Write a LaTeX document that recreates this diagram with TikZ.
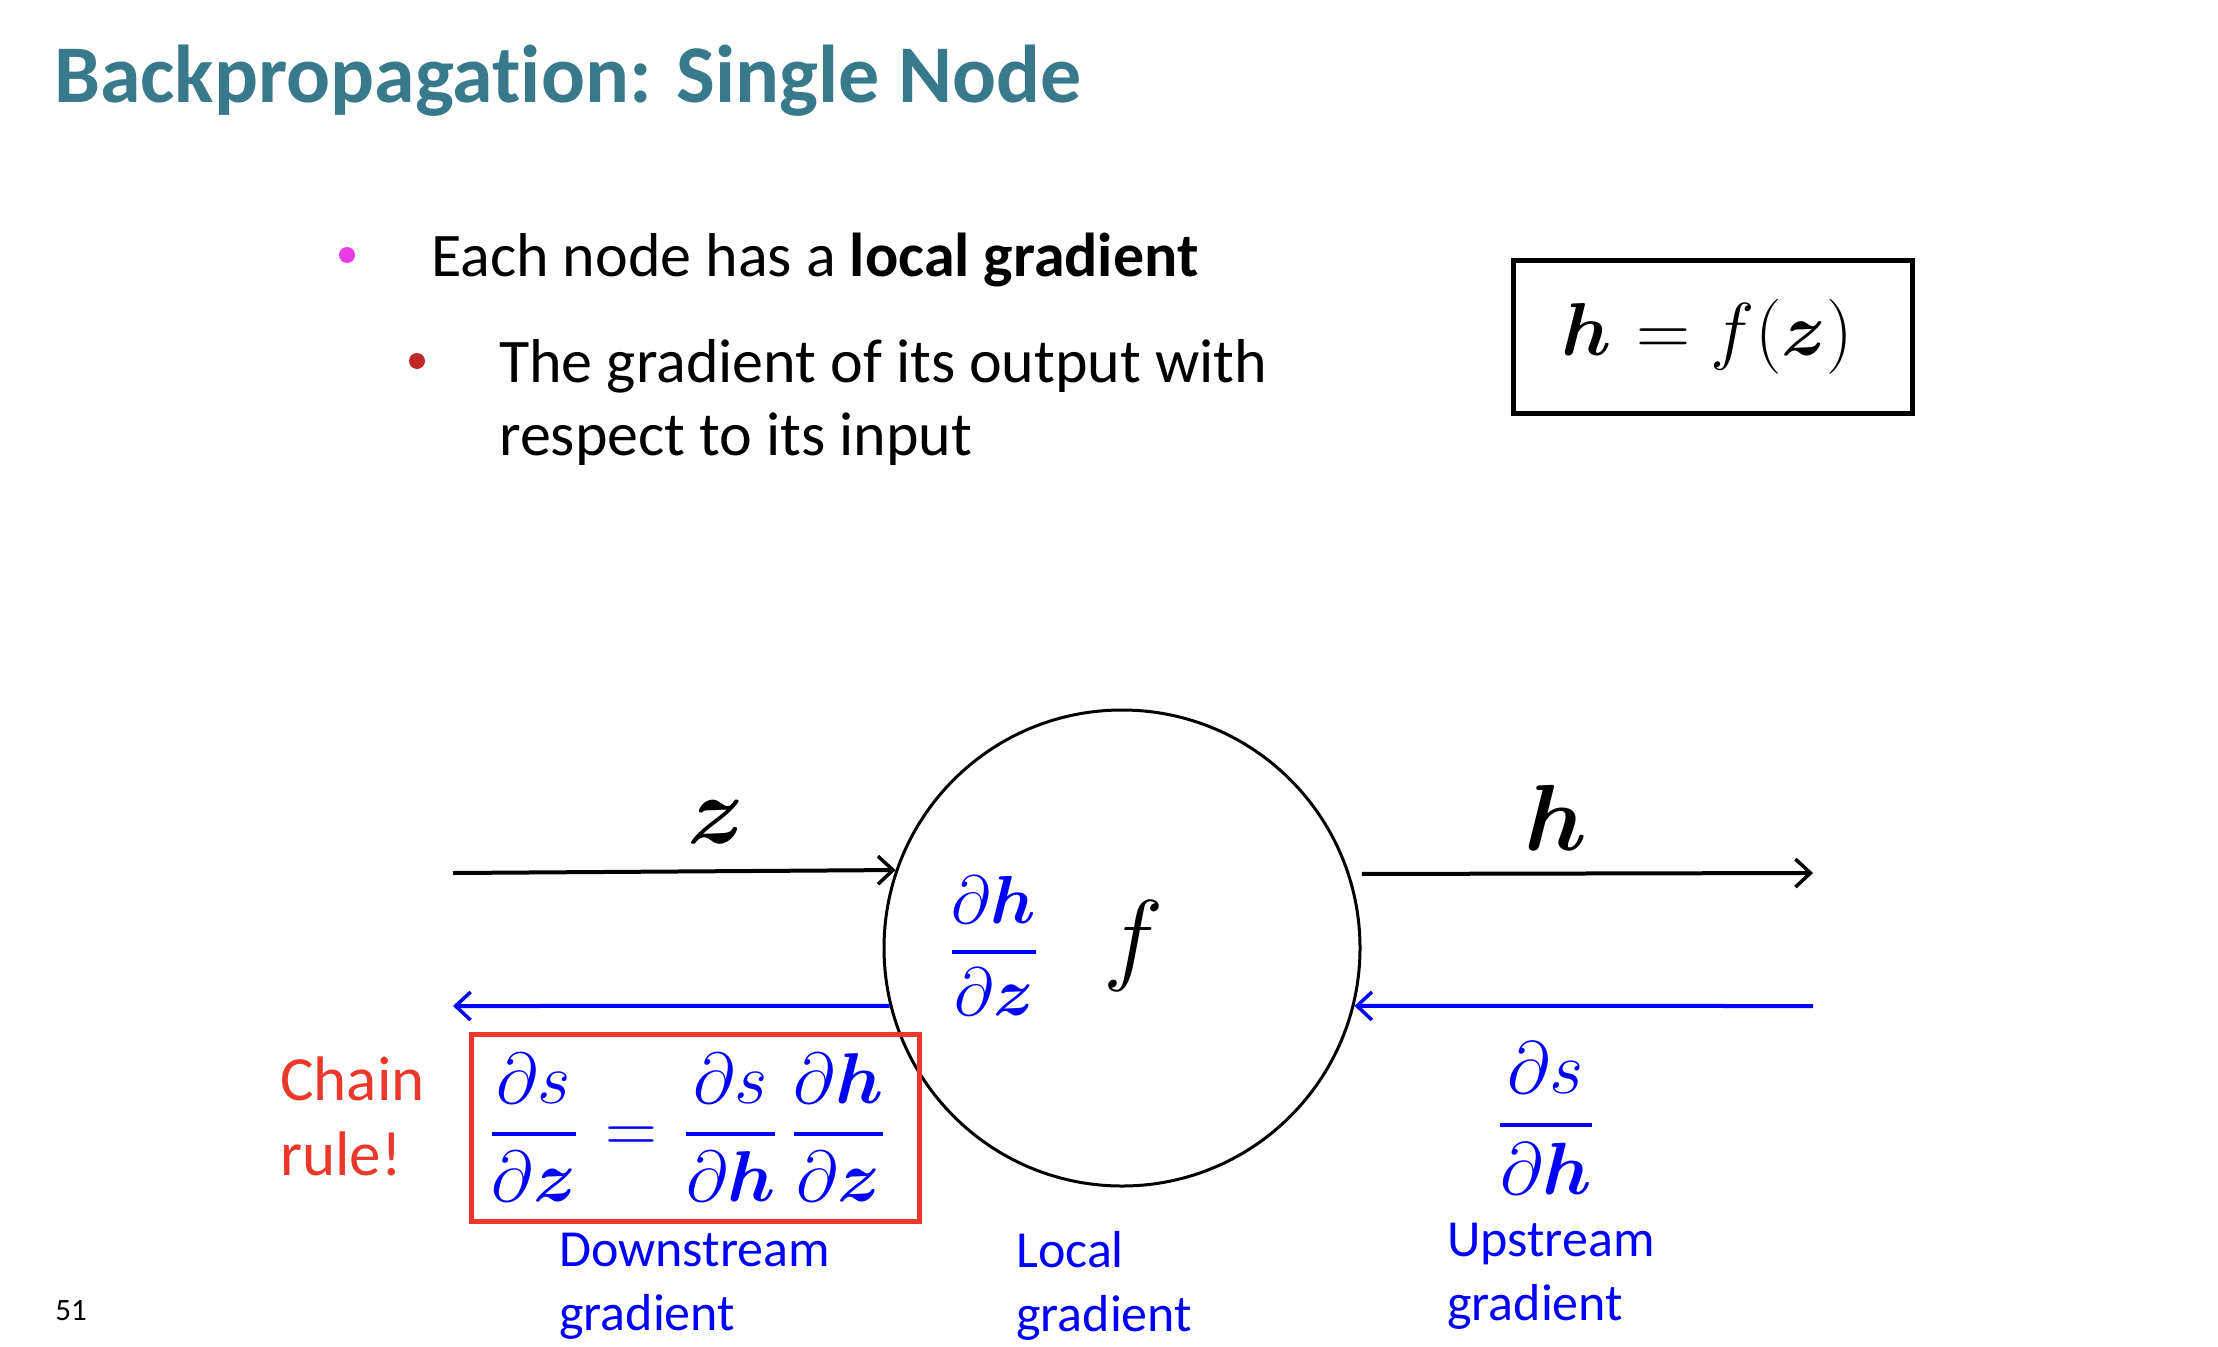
\RequirePackage{fix-cm}
\documentclass[tikz,border=0pt]{standalone}
\usepackage{amsmath}
\usepackage{bm}
\usepackage{fontspec}
\setmainfont{Carlito}[Ligatures=NoCommon]
\usetikzlibrary{arrows.meta}
\definecolor{titlecol}{RGB}{56,121,140}
\definecolor{bulA}{RGB}{232,60,232}
\definecolor{bulB}{RGB}{192,40,40}
\definecolor{redbox}{RGB}{234,57,43}
\definecolor{gblue}{RGB}{0,0,255}
\newcommand{\fsz}[1]{\fontsize{#1}{#1}\selectfont}
\newcommand{\thickfrac}[2]{\genfrac{}{}{4pt}{0}{#1}{#2}}
\begin{document}
\begin{tikzpicture}[x=1pt,y=-1pt,
  txt/.style={anchor=base west, inner sep=0},
  dotmark/.style={circle, inner sep=0, minimum size=16pt},
  fwd/.style={draw=black, line width=4pt, -{Straight Barb[length=15pt,width=28pt,line width=3.5pt]}},
  bwd/.style={draw=gblue, line width=4pt, -{Straight Barb[length=15pt,width=28pt,line width=3.5pt]}},
  bluelab/.style={text=gblue, align=left, anchor=north west, inner sep=0, font=\fsz{52}}
]
\useasboundingbox (0,0) rectangle (2218,1346);
% title
\node[txt, text=titlecol, font=\fsz{82}\bfseries] (title) at (54,102) {Backpropagation: Single Node};
% bullets
\node[dotmark, fill=bulA] (b1) at (347,255) {};
\node[txt, font=\fsz{62}] (t1) at (431,276) {Each node has a \textbf{local gradient}};
\node[dotmark, fill=bulB] (b2) at (417,361) {};
\node[txt, font=\fsz{62}] (t2) at (499,382) {The gradient of its output with};
\node[txt, font=\fsz{62}] (t3) at (499,455) {respect to its input};
% equation box
\node[draw, line width=5pt, minimum width=399pt, minimum height=153pt, font=\fsz{75}] (eqbox) at (1713,337) {$\bm h \mkern1mu= f(\bm z)$\kern12pt};
% function node
\node[circle, draw, line width=3pt, minimum size=476pt, inner sep=0] (fn) at (1122,948) {};
\coordinate (zin) at (453,873);
\coordinate (hout) at (1813,873);
\coordinate (dout) at (453,1006);
\coordinate (uin) at (1813,1006);
\draw[fwd] (zin) -- (fn.161.6);
\draw[fwd, shorten <=12pt] (fn.18.4) -- (hout);
\draw[bwd] (fn.194.1) -- (dout);
\draw[bwd] (uin) -- (fn.-14.1);
\node[font=\fsz{96}] (zl) at (716,822) {$\bm z$};
\node[font=\fsz{94}] (hl) at (1556,818) {$\bm h$};
\node[text=gblue, font=\fsz{68}] (loc) at (994,946) {$\thickfrac{\partial \bm h}{\partial \bm z}$};
\node[font=\fsz{102}] (fl) at (1134,946) {$f$};
% chain rule box
\node[draw=redbox, line width=5pt, minimum width=448pt, minimum height=187pt, text=gblue, font=\fsz{72}] (chain) at (695,1127.5)
  {$\thickfrac{\partial s}{\partial \bm z} \mkern2mu=\mkern2mu \thickfrac{\partial s}{\partial \bm h}\mkern4mu\thickfrac{\partial \bm h}{\partial \bm z}$\kern15pt};
\node[text=redbox, align=left, anchor=north west, inner sep=0, font=\fsz{63}] (cr) at (280,1057) {Chain\\[12pt]rule!};
\node[text=gblue, font=\fsz{74}] (up) at (1546,1118) {$\thickfrac{\partial s}{\partial \bm h}$};
\node[bluelab] (dl) at (559,1233) {Downstream\\[12pt]gradient};
\node[bluelab] (ll) at (1016,1231) {Local\\[12pt]gradient};
\node[bluelab] (ul) at (1447,1223) {Upstream\\[12pt]gradient};
\node[font=\fsz{31}] (pg) at (71,1311) {51};
\end{tikzpicture}
\end{document}
